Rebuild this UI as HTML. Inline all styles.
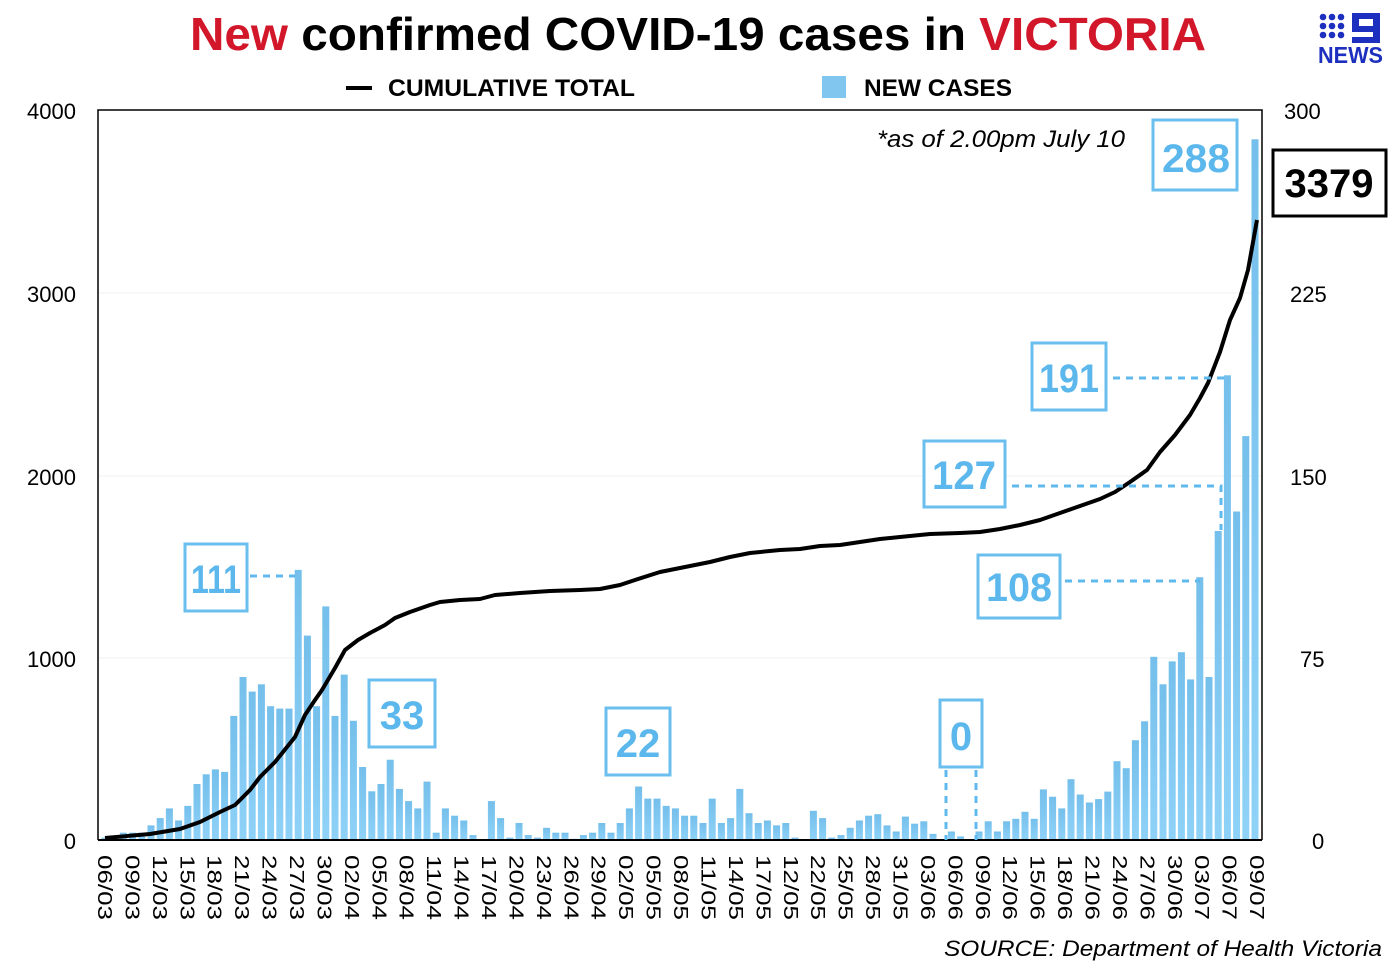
<!DOCTYPE html>
<html><head><meta charset="utf-8"><style>
html,body{margin:0;padding:0;background:#fff;}
svg text{font-family:"Liberation Sans",sans-serif;}
</style></head><body>
<svg id="s" width="1396" height="963" xmlns="http://www.w3.org/2000/svg">
<defs><linearGradient id="g" x1="0" y1="0" x2="0" y2="1"><stop offset="0" stop-color="#74bfeb"/><stop offset="1" stop-color="#8fd2f8"/></linearGradient></defs>
<text x="698" y="50" text-anchor="middle" font-size="46" font-weight="bold" textLength="1016" lengthAdjust="spacingAndGlyphs"><tspan fill="#d2172a">New</tspan> confirmed COVID-19 cases in <tspan fill="#d2172a">VICTORIA</tspan></text>
<line x1="346" y1="88" x2="372" y2="88" stroke="#000" stroke-width="4"/>
<text x="388" y="96" font-size="24" font-weight="bold" textLength="247" lengthAdjust="spacingAndGlyphs">CUMULATIVE TOTAL</text>
<rect x="822" y="76" width="24" height="22" fill="#80c6ef"/>
<text x="864" y="96" font-size="24" font-weight="bold" textLength="148" lengthAdjust="spacingAndGlyphs">NEW CASES</text>
<g fill="#1d2fbf">
<circle cx="1323" cy="17" r="3.3"/><circle cx="1332" cy="17" r="3.3"/><circle cx="1341" cy="17" r="3.3"/>
<circle cx="1323" cy="26" r="3.3"/><circle cx="1332" cy="26" r="3.3"/><circle cx="1341" cy="26" r="3.3"/>
<circle cx="1323" cy="35" r="3.3"/><circle cx="1332" cy="35" r="3.3"/><circle cx="1341" cy="35" r="3.3"/>
<path d="M1352 13h28v30h-28v-6h21v-5h-21z M1359 19v7h14v-7z" fill-rule="evenodd"/>
<text x="1318" y="63" font-size="23" font-weight="bold" textLength="65" lengthAdjust="spacingAndGlyphs">NEWS</text>
</g>
<g stroke="#f0f0f0" stroke-width="1"><line x1="98" y1="293" x2="1262" y2="293"/><line x1="98" y1="476" x2="1262" y2="476"/><line x1="98" y1="658" x2="1262" y2="658"/></g>
<g id="bars"></g>
<polyline id="cum" fill="none" stroke="#000" stroke-width="4" stroke-linejoin="round"/>
<path d="M98 840V110H1262V840" fill="none" stroke="#000" stroke-width="1.5"/>
<line x1="98" y1="840" x2="1262" y2="840" stroke="#000" stroke-width="2"/>
<g font-size="22" text-anchor="end"><text x="76" y="119">4000</text><text x="76" y="302">3000</text><text x="76" y="485">2000</text><text x="76" y="667">1000</text><text x="76" y="849">0</text></g>
<g font-size="22"><text x="1284" y="119">300</text><text x="1290" y="302">225</text><text x="1290" y="485">150</text><text x="1300" y="667">75</text><text x="1312" y="849">0</text></g>
<g id="xl" font-size="20"></g>
<text x="877" y="147" font-size="24" font-style="italic" textLength="248" lengthAdjust="spacingAndGlyphs">*as of 2.00pm July 10</text>
<text x="1382" y="956" text-anchor="end" font-size="22" font-style="italic" textLength="438" lengthAdjust="spacingAndGlyphs">SOURCE: Department of Health Victoria</text>
<g fill="#fff" stroke="#6bbfee" stroke-width="3">
<rect x="185" y="544" width="62" height="67"/><rect x="369" y="680" width="66" height="67"/><rect x="606" y="708" width="64" height="67"/><rect x="940" y="700" width="42" height="67"/><rect x="978" y="555" width="82" height="63"/><rect x="924" y="441" width="81" height="66"/><rect x="1032" y="343" width="74" height="67"/><rect x="1153" y="120" width="84" height="70"/>
</g>
<g stroke="#5fb9ed" stroke-width="3" stroke-dasharray="7,6" fill="none">
<line x1="250" y1="576" x2="295" y2="576"/><path d="M946 770V840M976 770V840"/><line x1="1065" y1="581" x2="1200" y2="581"/><path d="M1012 486H1221V530"/><line x1="1113" y1="378" x2="1226" y2="378"/>
</g>
<g fill="#5cb8ec" font-size="40" font-weight="bold" text-anchor="middle">
<text x="216" y="593" textLength="50" lengthAdjust="spacingAndGlyphs">111</text><text x="402" y="729">33</text><text x="638" y="757">22</text><text x="961" y="750">0</text><text x="1019" y="601" textLength="66" lengthAdjust="spacingAndGlyphs">108</text><text x="964" y="489" textLength="64" lengthAdjust="spacingAndGlyphs">127</text><text x="1069" y="392" textLength="60" lengthAdjust="spacingAndGlyphs">191</text><text x="1196" y="172" textLength="68" lengthAdjust="spacingAndGlyphs">288</text>
</g>
<rect x="1273" y="150" width="113" height="66" fill="#fff" stroke="#000" stroke-width="3"/>
<text x="1329" y="197" font-size="40" font-weight="bold" text-anchor="middle">3379</text>
</svg>
<script>
var v=[1,0,3,3,3,6,9,13,8,14,23,27,29,28,51,67,61,64,55,54,54,111,84,55,96,51,68,49,30,20,23,33,21,16,13,24,3,13,10,8,2,0,
16,9,1,7,2,1,5,3,3,0.5,2,3,7,3,7,13,22,17,17,14,13,10,10,7,17,7,9,21,11,7,8,6,7,1,0,12,9,1,2,5,8,10,
10.6,6,3.5,9.6,6.7,7.7,2.5,0,3.5,1.5,0,3.5,7.7,3.5,7.7,8.7,11.6,8.7,20.8,17.8,13,25,18.7,15.4,16.8,19.9,32.4,29.5,41,48.8,75.3,64,73.4,77.2,66,108,67,127,191,135,166,288];
var h='';for(var i=0;i<v.length;i++){var x=105+i*9.2,bh=v[i]*2.433;if(bh>0)h+='<rect x="'+(x-3.5).toFixed(1)+'" y="'+(840-bh).toFixed(1)+'" width="7" height="'+bh.toFixed(1)+'" fill="url(#g)"/>';}
document.getElementById('bars').innerHTML=h;
var p=[[105,838],[150,834],[180,829],[200,822],[220,812],[235,805],[250,790],[260,777],[275,762],[295,737],[305,715],[315,700],[322,690],[335,668],[345,650],[358,640],[370,633],[385,625],[395,618],[410,612],[430,605],[440,602],[460,600],[480,599],[495,595],[520,593],[550,591],[580,590],[600,589],[620,585],[635,580],[660,572],[690,566],[710,562],[730,557],[750,553],[780,550],[800,549],[820,546],[840,545],[860,542],[880,539],[900,537],[930,534],[960,533],[980,532],[1000,529],[1020,525],[1040,520],[1060,513],[1080,506],[1100,499],[1115,492],[1130,482],[1147,470],[1160,452],[1175,435],[1190,415],[1200,398],[1208,383],[1220,352],[1230,320],[1240,298],[1248,270],[1257,220]];
document.getElementById('cum').setAttribute('points',p.map(function(a){return a.join(',')}).join(' '));
var L="06/03 09/03 12/03 15/03 18/03 21/03 24/03 27/03 30/03 02/04 05/04 08/04 11/04 14/04 17/04 20/04 23/04 26/04 29/04 02/05 05/05 08/05 11/05 14/05 17/05 12/05 22/05 25/05 28/05 31/05 03/06 06/06 09/06 12/06 15/06 18/06 21/06 24/06 27/06 30/06 03/07 06/07 09/07".split(' ');
var lab='';for(var i=0;i<L.length;i++){var x=105+i*27.43;lab+='<text transform="translate('+(x-7).toFixed(1)+',855) rotate(90)" textLength="65" lengthAdjust="spacingAndGlyphs">'+L[i]+'</text>';}
document.getElementById('xl').innerHTML=lab;
</script>
</body></html>
